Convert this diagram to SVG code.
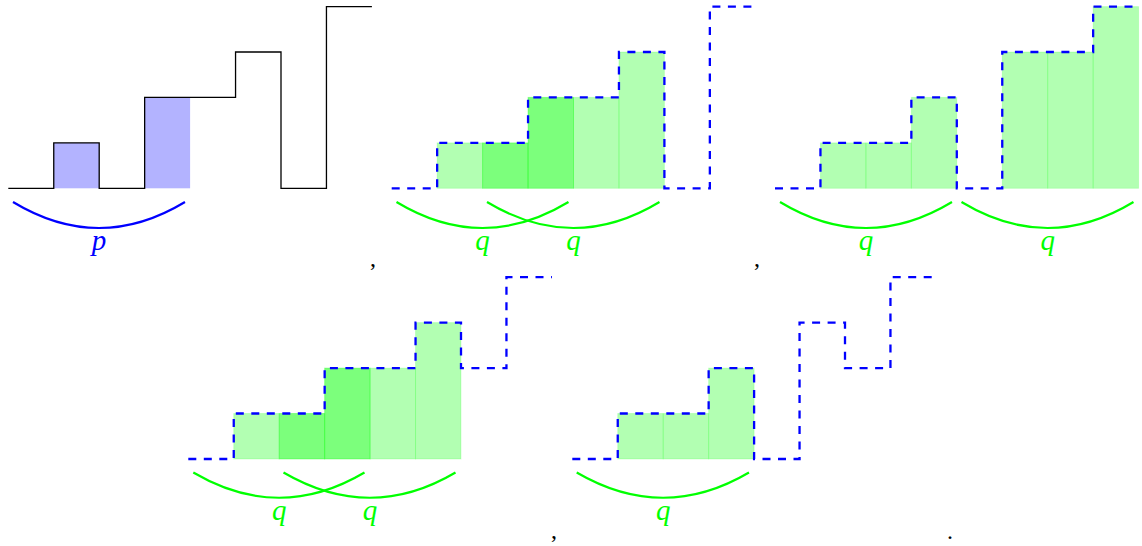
<svg xmlns="http://www.w3.org/2000/svg" width="1142" height="546" viewBox="0 0 1142 546">
<style>
.bg{fill:#ffffff}
.step{fill:none;stroke:#000000;stroke-width:1.3}
.dash{fill:none;stroke:#0000ff;stroke-width:2.3;stroke-dasharray:8 7.5}
.pfill{fill:#b3b3ff}
.cell{fill:#00ff00;fill-opacity:0.3;stroke:#00ff00;stroke-opacity:0.15;stroke-width:1}
.parc{fill:none;stroke:#0000ff;stroke-width:2.2}
.qarc{fill:none;stroke:#00ff00;stroke-width:2.2}
.lab{font-family:"Liberation Serif","Times New Roman",serif;font-style:italic;font-size:29px;text-anchor:middle}
.punct{font-family:"Liberation Serif","Times New Roman",serif;font-size:24px;fill:#000000}
</style>
<rect class="bg" x="0" y="0" width="1142" height="546"/>

<g id="panel1">
  <rect class="pfill" x="53.75" y="142.9" width="45.45" height="45.4"/>
  <rect class="pfill" x="144.65" y="97.4" width="45.45" height="90.9"/>
  <path class="step" d="M8.3,188.3 H53.75 V142.9 H99.2 V188.3 H144.65 V97.4 H235.55 V52 H281 V188.3 H326.45 V6.6 H371.9"/>
  <path class="parc" d="M13,202 Q99,254 185,202"/>
  <text class="lab" x="99" y="250" fill="#0000ff">p</text>
  <text class="punct" x="370" y="266">,</text>
</g>

<g id="panel2">
  <rect class="cell" x="437.15" y="142.9" width="45.45" height="45.4"/>
  <rect class="cell" x="482.6" y="142.9" width="45.45" height="45.4"/>
  <rect class="cell" x="528.05" y="97.4" width="45.45" height="90.9"/>
  <rect class="cell" x="482.6" y="142.9" width="45.45" height="45.4"/>
  <rect class="cell" x="528.05" y="97.4" width="45.45" height="90.9"/>
  <rect class="cell" x="573.5" y="97.4" width="45.45" height="90.9"/>
  <rect class="cell" x="618.95" y="52" width="45.45" height="136.3"/>
  <path class="dash" d="M391.7,188.3 H437.15 V142.9 H528.05 V97.4 H618.95 V52 H664.4 V188.3 H709.85 V6.6 H755.3"/>
  <path class="qarc" d="M396.5,202 Q482.6,254 568.5,202"/>
  <path class="qarc" d="M487,202 Q573.5,254 659.5,202"/>
  <text class="lab" x="482.6" y="250" fill="#00ff00">q</text>
  <text class="lab" x="573.5" y="250" fill="#00ff00">q</text>
  <text class="punct" x="754" y="266">,</text>
</g>

<g id="panel3">
  <rect class="cell" x="820.45" y="142.9" width="45.45" height="45.4"/>
  <rect class="cell" x="865.9" y="142.9" width="45.45" height="45.4"/>
  <rect class="cell" x="911.35" y="97.4" width="45.45" height="90.9"/>
  <rect class="cell" x="1002.25" y="52" width="45.45" height="136.3"/>
  <rect class="cell" x="1047.7" y="52" width="45.45" height="136.3"/>
  <rect class="cell" x="1093.15" y="6.6" width="45.45" height="181.7"/>
  <path class="dash" d="M775,188.3 H820.45 V142.9 H911.35 V97.4 H956.8 V188.3 H1002.25 V52 H1093.15 V6.6 H1138.6"/>
  <path class="qarc" d="M780,202 Q866,254 952,202"/>
  <path class="qarc" d="M961.5,202 Q1047.7,254 1133.5,202"/>
  <text class="lab" x="866" y="250" fill="#00ff00">q</text>
  <text class="lab" x="1047.7" y="250" fill="#00ff00">q</text>
</g>

<g id="panel4">
  <rect class="cell" x="233.75" y="413.5" width="45.45" height="45.5"/>
  <rect class="cell" x="279.2" y="413.5" width="45.45" height="45.5"/>
  <rect class="cell" x="324.65" y="368.1" width="45.45" height="90.9"/>
  <rect class="cell" x="279.2" y="413.5" width="45.45" height="45.5"/>
  <rect class="cell" x="324.65" y="368.1" width="45.45" height="90.9"/>
  <rect class="cell" x="370.1" y="368.1" width="45.45" height="90.9"/>
  <rect class="cell" x="415.55" y="322.6" width="45.45" height="136.4"/>
  <path class="dash" d="M188.3,459 H233.75 V413.5 H324.65 V368.1 H415.55 V322.6 H461 V368.1 H506.45 V277.2 H551.9"/>
  <path class="qarc" d="M193.3,472.5 Q279.2,523 364.5,472.5"/>
  <path class="qarc" d="M283.5,472.5 Q370.1,523 455.5,472.5"/>
  <text class="lab" x="279.2" y="520" fill="#00ff00">q</text>
  <text class="lab" x="370.1" y="520" fill="#00ff00">q</text>
  <text class="punct" x="551" y="538">,</text>
</g>

<g id="panel5">
  <rect class="cell" x="617.75" y="413.5" width="45.45" height="45.5"/>
  <rect class="cell" x="663.2" y="413.5" width="45.45" height="45.5"/>
  <rect class="cell" x="708.65" y="368.1" width="45.45" height="90.9"/>
  <path class="dash" d="M572.3,459 H617.75 V413.5 H708.65 V368.1 H754.1 V459 H799.55 V322.6 H845 V368.1 H890.45 V277.2 H935.9"/>
  <path class="qarc" d="M576.7,472.5 Q663.2,523 749,472.5"/>
  <text class="lab" x="663.2" y="520" fill="#00ff00">q</text>
  <text class="punct" x="947" y="539">.</text>
</g>
</svg>
